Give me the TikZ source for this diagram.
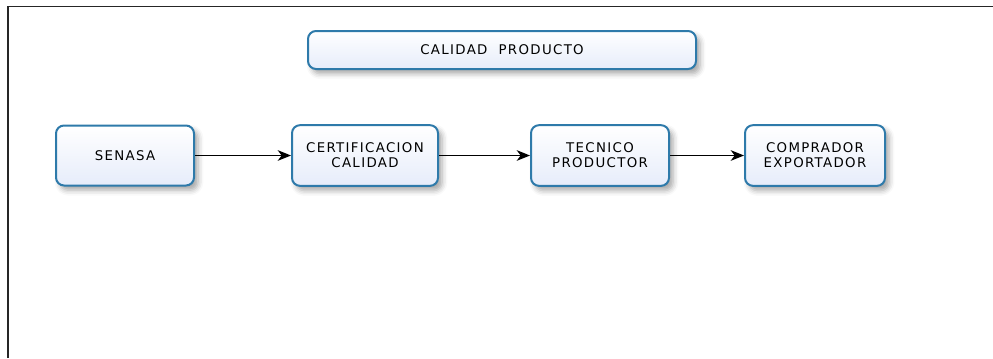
\documentclass[tikz,border=0pt]{standalone}
\usepackage{fontspec}
\setmainfont{DejaVu Sans}
\newfontfamily\boxfont[LetterSpace=10]{DejaVu Sans}
\usetikzlibrary{arrows.meta,shadows.blur}

\definecolor{boxline}{RGB}{46,122,170}
\definecolor{boxfill}{RGB}{230,236,250}

\begin{document}
\begin{tikzpicture}[x=0.75pt,y=-0.75pt,
    actor/.style={shape=rectangle, rounded corners=6pt, draw=boxline, line width=1.5pt,
        top color=white, bottom color=boxfill, align=center, inner sep=0pt,
        font=\boxfont\fontsize{10}{11.25}\selectfont,
        blur shadow={shadow xshift=3pt, shadow yshift=-3.5pt, shadow opacity=35, shadow blur radius=4pt}}]
    \useasboundingbox (0,0) rectangle (993,358);
    \draw[line width=1pt, black!85] (8,358) -- (8,6.5) -- (993,6.5);

    \node[actor, minimum width=291pt, minimum height=28.5pt] (title) at (502,50) {CALIDAD\ \ PRODUCTO};

    \node[actor, minimum width=103.5pt, minimum height=45pt] (senasa) at (125,155.5) {SENASA};
    \node[actor, minimum width=109.5pt, minimum height=45.5pt] (cert) at (365,155.5) {CERTIFICACION\\CALIDAD};
    \node[actor, minimum width=103.5pt, minimum height=45.5pt] (tecnico) at (600,155.5) {TECNICO\\PRODUCTOR};
    \node[actor, minimum width=105pt, minimum height=45.5pt] (comprador) at (815,155.5) {COMPRADOR\\EXPORTADOR};

    \path [-{Stealth[length=10pt,width=8pt,inset=3pt]}, line width=0.9pt] (senasa) edge (cert);
    \path [-{Stealth[length=10pt,width=8pt,inset=3pt]}, line width=0.9pt] (cert) edge (tecnico);
    \path [-{Stealth[length=10pt,width=8pt,inset=3pt]}, line width=0.9pt] (tecnico) edge (comprador);

\end{tikzpicture}
\end{document}
